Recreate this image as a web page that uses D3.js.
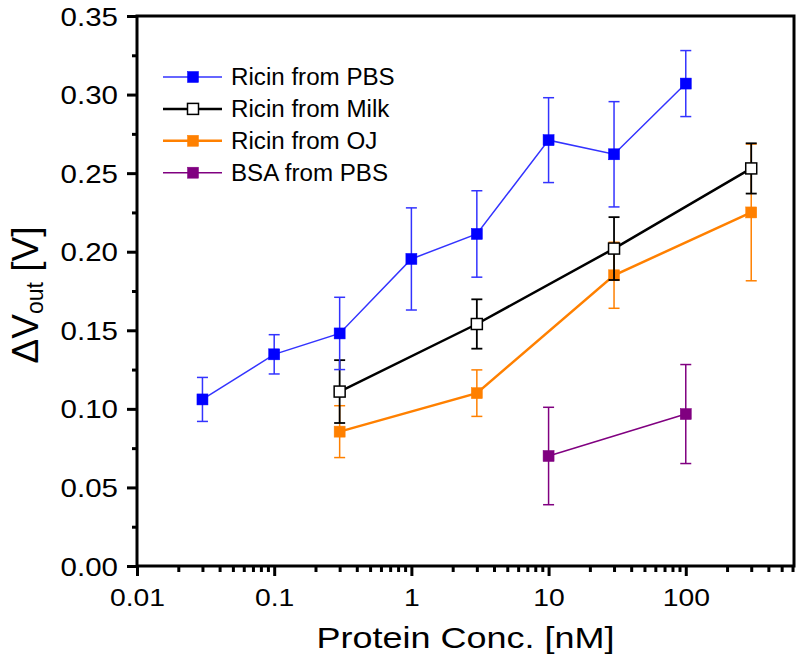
<!DOCTYPE html>
<html><head><meta charset="utf-8">
<script src="https://cdn.jsdelivr.net/npm/d3@7"></script>
<style>
body{margin:0;background:#fff;}
svg{display:block;font-family:"Liberation Sans",Arial,sans-serif;}
</style></head>
<body><svg id="c" width="800" height="664"></svg>
<script>
// ---- data ----
const pbsX = [0.03, 0.1, 0.3, 1, 3, 10, 30, 100];
const pbsY = [0.106, 0.1347, 0.148, 0.1954, 0.2113, 0.271, 0.262, 0.307];
const pbsErr = [0.014, 0.0125, 0.023, 0.0325, 0.0275, 0.027, 0.0335, 0.021];

const milkX = [0.3, 3, 30, 300];
const milkY = [0.111, 0.154, 0.202, 0.253];
const milkErr = [0.020, 0.0157, 0.020, 0.016];

const ojX = [0.3, 3, 30, 300];
const ojY = [0.0855, 0.110, 0.185, 0.225];
const ojErr = [0.0165, 0.0148, 0.021, 0.0435];

const bsaX = [10, 100];
const bsaY = [0.070, 0.0967];
const bsaErr = [0.031, 0.0315];

const xTicks = [0.01, 0.1, 1, 10, 100];
const xTickLabels = ["0.01", "0.1", "1", "10", "100"];
const yTicks = [0, 0.05, 0.10, 0.15, 0.20, 0.25, 0.30, 0.35];
const yTickLabels = ["0.00", "0.05", "0.10", "0.15", "0.20", "0.25", "0.30", "0.35"];

const seriesNames = ["Ricin from PBS", "Ricin from Milk", "Ricin from OJ", "BSA from PBS"];

// ---- layout ----
const L = 137, R = 794, T = 16, B = 566;
const svg = d3.select("#c");
const x = d3.scaleLog().domain([0.01, 615]).range([L, R]);
const y = d3.scaleLinear().domain([0, 0.35]).range([B, T]);

function stretch(sel, k) {
  sel.each(function () {
    const w = this.getComputedTextLength();
    d3.select(this).attr("textLength", w * k).attr("lengthAdjust", "spacingAndGlyphs");
  });
}

const series = [
  {name: seriesNames[2], xs: ojX, ys: ojY, es: ojErr, color: "#ff8000", lw: 2.5, ew: 1.5, fill: "#ff8000"},
  {name: seriesNames[1], xs: milkX, ys: milkY, es: milkErr, color: "#000000", lw: 2.5, ew: 1.8, fill: "#ffffff"},
  {name: seriesNames[0], xs: pbsX, ys: pbsY, es: pbsErr, color: "#0000ff", lw: 1.5, ew: 1.5, fill: "#0000ff", stroke: "#3333ff"},
  {name: seriesNames[3], xs: bsaX, ys: bsaY, es: bsaErr, color: "#800080", lw: 1.5, ew: 1.5, fill: "#800080"}
];

const ms = 11, cap = 11;
series.forEach(s => {
  const pts = s.xs.map((v, i) => ({x: v, y: s.ys[i], e: s.es[i]}));
  const g = svg.append("g");
  g.append("path").datum(pts)
    .attr("fill", "none").attr("stroke", s.stroke || s.color).attr("stroke-width", s.lw)
    .attr("d", d3.line().x(d => x(d.x)).y(d => y(d.y)));
  const eb = g.selectAll(".eb").data(pts).enter().append("g")
    .attr("stroke", s.stroke || s.color).attr("stroke-width", s.ew).attr("fill", "none");
  eb.append("line").attr("x1", d => x(d.x)).attr("x2", d => x(d.x))
    .attr("y1", d => y(d.y + d.e)).attr("y2", d => y(d.y - d.e));
  eb.append("line").attr("x1", d => x(d.x) - cap / 2).attr("x2", d => x(d.x) + cap / 2)
    .attr("y1", d => y(d.y + d.e)).attr("y2", d => y(d.y + d.e));
  eb.append("line").attr("x1", d => x(d.x) - cap / 2).attr("x2", d => x(d.x) + cap / 2)
    .attr("y1", d => y(d.y - d.e)).attr("y2", d => y(d.y - d.e));
  g.selectAll("rect").data(pts).enter().append("rect")
    .attr("x", d => x(d.x) - ms / 2).attr("y", d => y(d.y) - ms / 2)
    .attr("width", ms).attr("height", ms)
    .attr("fill", s.fill).attr("stroke", s.color).attr("stroke-width", s.fill === "#ffffff" ? 1.5 : 0.5);
});

// ---- axes ----
const minorY = d3.range(0.025, 0.35, 0.05);
const minorX = [];
[0.01, 0.1, 1, 10, 100].forEach(d => { for (let k = 2; k <= 9; k++) { const v = d * k; if (v <= 615) minorX.push(v); } });

const ax = svg.append("g");
ax.append("rect").attr("x", L).attr("y", T).attr("width", R - L).attr("height", B - T)
  .attr("fill", "none").attr("stroke", "#000").attr("stroke-width", 3);

const yAxis = ax.append("g").attr("transform", `translate(${L},0)`)
  .call(d3.axisLeft(y).tickValues(yTicks).tickSize(10).tickPadding(9)
    .tickFormat((d, i) => yTickLabels[i]));
const yMinor = ax.append("g").attr("transform", `translate(${L},0)`)
  .call(d3.axisLeft(y).tickValues(minorY).tickSize(5).tickFormat(""));
const xAxis = ax.append("g").attr("transform", `translate(0,${B})`)
  .call(d3.axisBottom(x).tickValues(xTicks).tickSize(10).tickPadding(13)
    .tickFormat((d, i) => xTickLabels[i]));
const xMinor = ax.append("g").attr("transform", `translate(0,${B})`)
  .call(d3.axisBottom(x).tickValues(minorX).tickSize(6).tickFormat(""));

[yAxis, yMinor, xAxis, xMinor].forEach(a => {
  a.select(".domain").remove();
  a.selectAll(".tick line").attr("stroke", "#000").attr("stroke-width", 3);
  a.selectAll(".tick text").attr("fill", "#000")
    .attr("font-family", "'Liberation Sans', Arial, sans-serif");
});
yAxis.selectAll(".tick text").attr("font-size", 25).attr("dy", "0.36em");
xAxis.selectAll(".tick text").attr("font-size", 24);
stretch(yAxis.selectAll(".tick text"), 1.18);
stretch(xAxis.selectAll(".tick text"), 1.18);

// axis titles
const xt = svg.append("text").attr("x", (L + R) / 2).attr("y", 648).attr("text-anchor", "middle")
  .attr("font-size", 29).text("Protein Conc. [nM]");
stretch(xt, 1.24);

const yt = svg.append("text").attr("transform", `translate(38,295) rotate(-90)`)
  .attr("text-anchor", "middle").attr("font-size", 37);
yt.append("tspan").text("\u0394V");
yt.append("tspan").attr("font-size", 23).attr("dy", 5).text("out");
yt.append("tspan").attr("dy", -5).text(" [V]");

// legend
const legOrder = [series[2], series[1], series[0], series[3]];
const lg = svg.append("g");
legOrder.forEach((s, i) => {
  const yy = 77 + i * 31.9;
  lg.append("line").attr("x1", 163).attr("x2", 222).attr("y1", yy).attr("y2", yy)
    .attr("stroke", s.stroke || s.color).attr("stroke-width", s.lw);
  lg.append("rect").attr("x", 193 - ms / 2).attr("y", yy - ms / 2).attr("width", ms).attr("height", ms)
    .attr("fill", s.fill).attr("stroke", s.color).attr("stroke-width", s.fill === "#ffffff" ? 1.5 : 0.5);
  const t = lg.append("text").attr("x", 231).attr("y", yy).attr("dy", "0.36em").attr("font-size", 23).text(s.name);
  stretch(t, 1.05);
});
</script></body></html>
